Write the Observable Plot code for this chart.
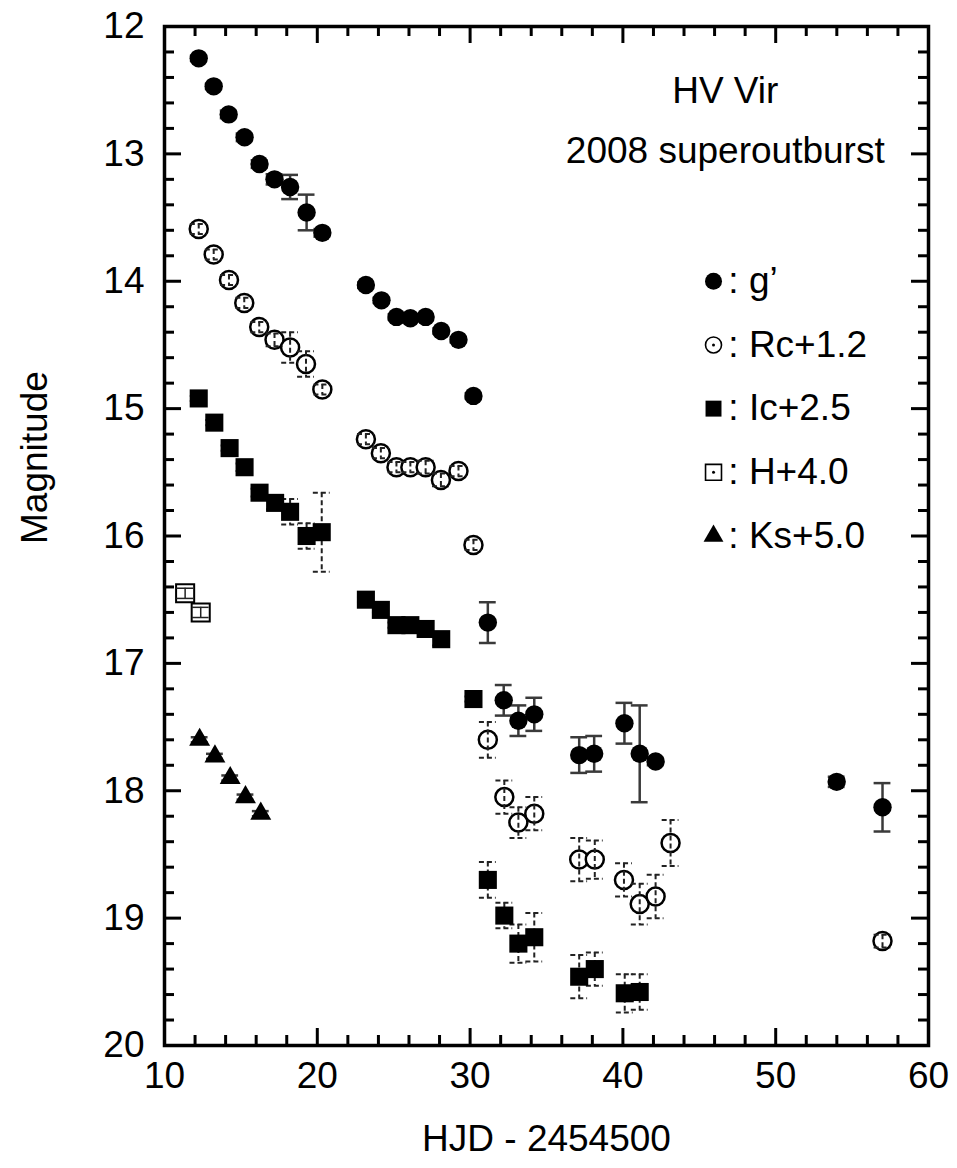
<!DOCTYPE html>
<html>
<head>
<meta charset="utf-8">
<script src="https://cdn.jsdelivr.net/npm/d3@7"></script>
<script src="https://cdn.jsdelivr.net/npm/@observablehq/plot@0.6"></script>
<style>
  html, body { margin: 0; padding: 0; background: #fff; }
  #chart { width: 957px; height: 1168px; }
</style>
</head>
<body>
<div id="chart"></div>
<script>
// HV Vir, 2008 superoutburst: multicolour light curve (band offsets as labelled)

// g'
const gDays = [12.24, 13.22, 14.20, 15.24, 16.22, 17.20, 18.22, 19.30, 20.33,
               23.18, 24.20, 25.18, 26.09, 27.09, 28.11, 29.24,
               30.22, 31.16, 32.20, 33.16, 34.20, 37.14, 38.12, 40.10, 41.10, 42.14, 53.99, 56.99];
const gMags = [12.25, 12.47, 12.69, 12.87, 13.08, 13.20, 13.26, 13.46, 13.62,
               14.03, 14.15, 14.28, 14.29, 14.28, 14.39, 14.46,
               14.90, 16.68, 17.29, 17.45, 17.40, 17.72, 17.71, 17.47, 17.71, 17.77, 17.93, 18.13];
const gErrs = [0.02, 0.02, 0.03, 0.03, 0.03, 0.04, 0.095, 0.14, 0.03,
               0.02, 0.02, 0.02, 0.02, 0.02, 0.02, 0.02,
               0.02, 0.16, 0.12, 0.12, 0.13, 0.14, 0.14, 0.16, 0.38, 0.03, 0.04, 0.19];

// Rc + 1.2
const rDays = [12.24, 13.22, 14.22, 15.22, 16.20, 17.20, 18.22, 19.26, 20.33,
               23.18, 24.16, 25.18, 26.09, 27.09, 28.09, 29.24,
               30.22, 31.16, 32.24, 33.16, 34.20, 37.14, 38.16, 40.07, 41.10, 42.14, 43.12, 56.99];
const rMags = [13.59, 13.79, 13.99, 14.17, 14.36, 14.46, 14.52, 14.65, 14.85,
               15.24, 15.35, 15.46, 15.46, 15.46, 15.56, 15.49,
               16.07, 17.60, 18.05, 18.25, 18.18, 18.54, 18.54, 18.70, 18.89, 18.83, 18.41, 19.18];
const rErrs = [0.04, 0.04, 0.04, 0.04, 0.04, 0.05, 0.12, 0.10, 0.04,
               0.04, 0.04, 0.04, 0.04, 0.05, 0.05, 0.04,
               0.04, 0.14, 0.13, 0.12, 0.13, 0.17, 0.15, 0.13, 0.16, 0.17, 0.18, 0.05];

// Ic + 2.5
const iDays = [12.24, 13.26, 14.26, 15.24, 16.22, 17.24, 18.22, 19.30, 20.29,
               23.18, 24.16, 25.18, 26.09, 27.09, 28.11,
               30.22, 31.16, 32.24, 33.16, 34.20, 37.14, 38.16, 40.12, 41.10];
const iMags = [14.92, 15.11, 15.31, 15.46, 15.66, 15.74, 15.81, 16.00, 15.97,
               16.50, 16.58, 16.70, 16.70, 16.73, 16.81,
               17.28, 18.70, 18.98, 19.20, 19.15, 19.46, 19.40, 19.59, 19.58];
const iErrs = [0.02, 0.02, 0.02, 0.03, 0.03, 0.05, 0.10, 0.10, 0.31,
               0.02, 0.02, 0.02, 0.02, 0.02, 0.05,
               0.02, 0.14, 0.10, 0.15, 0.19, 0.17, 0.13, 0.15, 0.14];

// H + 4.0
const hDays = [11.35, 12.37];
const hMags = [16.45, 16.60];
const hErrs = [0.04, 0.04];

// Ks + 5.0
const kDays = [12.30, 13.30, 14.30, 15.30, 16.30];
const kMags = [17.60, 17.73, 17.90, 18.05, 18.18];
const kErrs = [0.02, 0.02, 0.02, 0.02, 0.02];

// axis ticks
const xMajor = [10, 20, 30, 40, 50, 60];
const yMajor = [12, 13, 14, 15, 16, 17, 18, 19, 20];
const xMinor = d3.range(0, 26).map(i => 10 + 2 * i).filter(v => v % 10 !== 0);
const yMinor = d3.range(0, 41).map(i => +(12 + 0.2 * i).toFixed(1)).filter(v => !Number.isInteger(v));

// legend entries and annotation text
const legendNames = [": g\u2019", ": Rc+1.2", ": Ic+2.5", ": H+4.0", ": Ks+5.0"];
const legendMags = [14.0, 14.5, 15.0, 15.5, 16.0];
const legendSymbolDay = 45.93;
const legendTextDay = 46.9;
const titleLines = ["HV Vir", "2008 superoutburst"];
const titleMags = [12.51, 12.98];
const titleDay = 46.7;

const rows = (days, mags, errs) => days.map((d, i) => ({x: d, y: mags[i], e: errs[i]}));
const g = rows(gDays, gMags, gErrs);
const rc = rows(rDays, rMags, rErrs);
const ic = rows(iDays, iMags, iErrs);
const hb = rows(hDays, hMags, hErrs);
const ks = rows(kDays, kMags, kErrs);

const W = 957, H = 1168;
const mT = 26, mR = 29, mB = 123, mL = 164;
const PW = W - mL - mR, PH = H - mT - mB;
const CAP = 0.55;
const FONT = "'Liberation Sans', Arial, Helvetica, sans-serif";

function errorBars(data, style) {
  return [
    Plot.ruleX(data, {x: "x", y1: d => d.y - d.e, y2: d => d.y + d.e, ...style}),
    Plot.ruleY(data, {y: d => d.y - d.e, x1: d => d.x - CAP, x2: d => d.x + CAP, ...style}),
    Plot.ruleY(data, {y: d => d.y + d.e, x1: d => d.x - CAP, x2: d => d.x + CAP, ...style})
  ];
}

const solidBar = {stroke: "#3a3a3a", strokeWidth: 2.5};
const dashBar = {stroke: "#222", strokeWidth: 2, strokeDasharray: "5,3"};
const major = 17, minor = 10;

const chart = Plot.plot({
  width: W,
  height: H,
  marginTop: mT,
  marginRight: mR,
  marginBottom: mB,
  marginLeft: mL,
  style: {background: "white", fontFamily: FONT, color: "black"},
  x: {domain: [10, 60], axis: null},
  y: {domain: [12, 20], reverse: true, axis: null},
  marks: [
    // inward ticks on all four sides
    Plot.ruleX(xMajor, {x: d => d, insetTop: PH - major, strokeWidth: 3}),
    Plot.ruleX(xMajor, {x: d => d, insetBottom: PH - major, strokeWidth: 3}),
    Plot.ruleX(xMinor, {x: d => d, insetTop: PH - minor, strokeWidth: 3}),
    Plot.ruleX(xMinor, {x: d => d, insetBottom: PH - minor, strokeWidth: 3}),
    Plot.ruleY(yMajor, {y: d => d, insetRight: PW - major, strokeWidth: 3}),
    Plot.ruleY(yMajor, {y: d => d, insetLeft: PW - major, strokeWidth: 3}),
    Plot.ruleY(yMinor, {y: d => d, insetRight: PW - minor, strokeWidth: 3}),
    Plot.ruleY(yMinor, {y: d => d, insetLeft: PW - minor, strokeWidth: 3}),

    // tick labels and axis titles
    Plot.text(xMajor, {x: d => d, frameAnchor: "bottom", dy: 42, text: d => String(d), fontSize: 37}),
    Plot.text(yMajor, {y: d => d, frameAnchor: "left", dx: -20, textAnchor: "end", text: d => String(d), fontSize: 37}),
    Plot.text(["HJD - 2454500"], {frameAnchor: "bottom", dy: 105, text: d => d, fontSize: 37}),
    Plot.text(["Magnitude"], {frameAnchor: "left", dx: -129, dy: 8, rotate: -90, text: d => d, fontSize: 37}),

    // Ks + 5.0
    ...errorBars(ks, solidBar),
    Plot.dot(ks, {x: "x", y: "y", symbol: "triangle2", r: 10, fill: "black"}),

    // H + 4.0
    Plot.dot(hb, {x: "x", y: "y", symbol: "square", r: 10.2, fill: "white", stroke: "black", strokeWidth: 2}),
    ...errorBars(hb, {stroke: "#222", strokeWidth: 1.5}),

    // Ic + 2.5
    ...errorBars(ic, dashBar),
    Plot.dot(ic, {x: "x", y: "y", symbol: "square", r: 10.2, fill: "black"}),

    // Rc + 1.2
    Plot.dot(rc, {x: "x", y: "y", r: 9, fill: "white", stroke: "black", strokeWidth: 2.5}),
    ...errorBars(rc, dashBar),

    // g'
    ...errorBars(g, solidBar),
    Plot.dot(g, {x: "x", y: "y", r: 9.2, fill: "black"}),

    // legend
    Plot.dot([legendMags[0]], {x: legendSymbolDay, y: d => d, r: 8.5, fill: "black"}),
    Plot.dot([legendMags[1]], {x: legendSymbolDay, y: d => d, r: 8, fill: "white", stroke: "black", strokeWidth: 1.6}),
    Plot.dot([legendMags[1]], {x: legendSymbolDay, y: d => d, r: 1.5, fill: "black"}),
    Plot.dot([legendMags[2]], {x: legendSymbolDay, y: d => d, symbol: "square", r: 9, fill: "black"}),
    Plot.dot([legendMags[3]], {x: legendSymbolDay, y: d => d, symbol: "square", r: 9, fill: "white", stroke: "black", strokeWidth: 1.6}),
    Plot.dot([legendMags[3]], {x: legendSymbolDay, y: d => d, r: 1.5, fill: "black"}),
    Plot.dot([legendMags[4]], {x: legendSymbolDay, y: d => d, symbol: "triangle2", r: 9.5, fill: "black"}),
    Plot.text(legendNames, {x: legendTextDay, y: (d, i) => legendMags[i], text: d => d, textAnchor: "start", fontSize: 37}),

    // star name and event
    Plot.text(titleLines, {x: titleDay, y: (d, i) => titleMags[i], text: d => d, fontSize: 37}),

    // plot frame
    Plot.frame({stroke: "black", strokeWidth: 3.5})
  ]
});

document.getElementById("chart").appendChild(chart);
</script>
</body>
</html>
